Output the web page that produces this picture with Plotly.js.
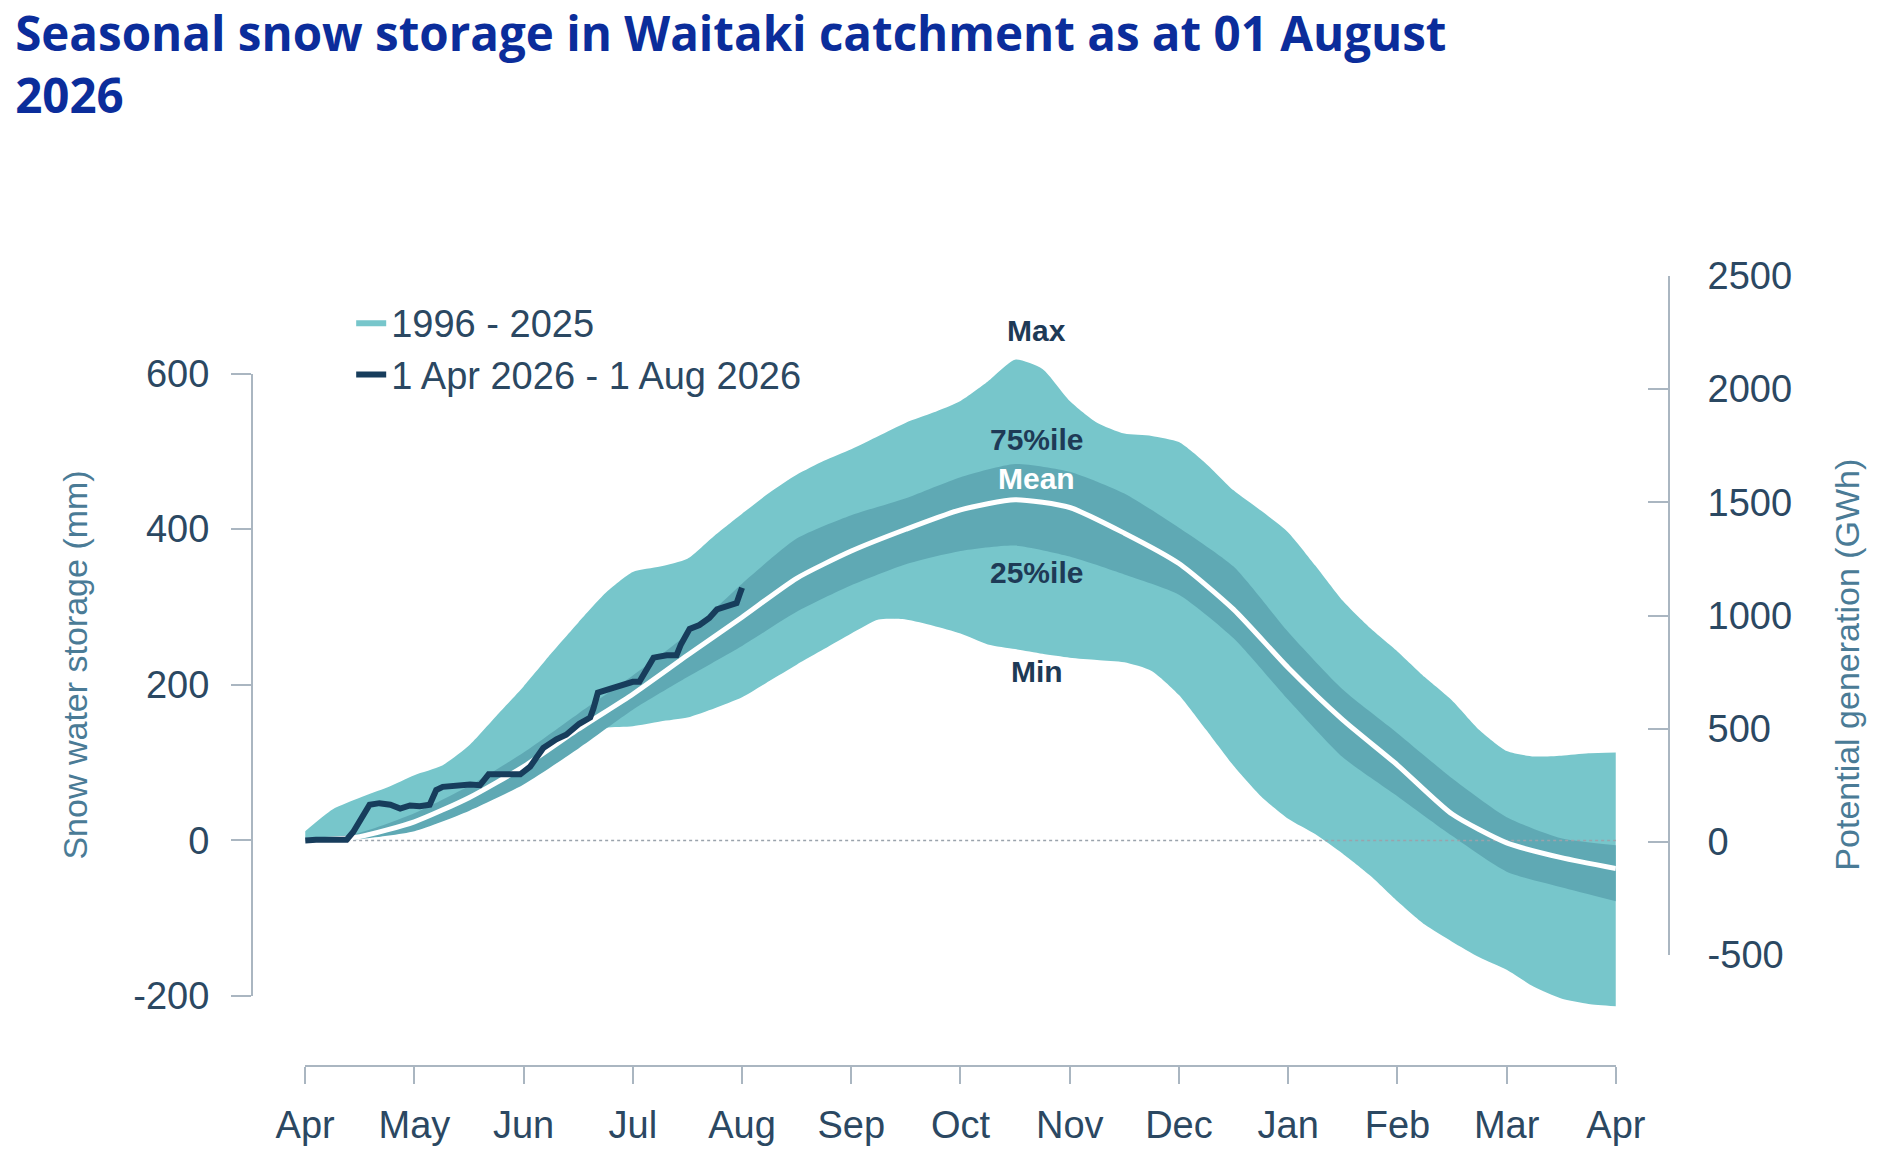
<!DOCTYPE html>
<html>
<head>
<meta charset="utf-8">
<script src="https://cdn.plot.ly/plotly-3.0.1.min.js"></script>
<style>
  html, body { margin: 0; padding: 0; background: #fff; }
  #chart { width: 1892px; height: 1170px; }
</style>
</head>
<body>
<div id="chart"></div>
<script>
// month ticks, x is months since 1 April
var months = ['Apr', 'May', 'Jun', 'Jul', 'Aug', 'Sep', 'Oct', 'Nov', 'Dec', 'Jan', 'Feb', 'Mar', 'Apr'];
var monthPos = [0, 1, 2, 3, 4, 5, 6, 7, 8, 9, 10, 11, 12];

// 1996 - 2025 envelope (mm), quarter-month steps
var xQuarter = [0, 0.25, 0.5, 0.75, 1, 1.25, 1.5, 1.75, 2, 2.25, 2.5, 2.75, 3, 3.25, 3.5, 3.75,
  4, 4.25, 4.5, 4.75, 5, 5.25, 5.5, 5.75, 6, 6.25, 6.5, 6.75, 7, 7.25, 7.5, 7.75,
  8, 8.25, 8.5, 8.75, 9, 9.25, 9.5, 9.75, 10, 10.25, 10.5, 10.75, 11, 11.25, 11.5, 11.75, 12];
var maxMm = [12, 40, 55, 68, 84, 96, 122, 160, 198, 240, 280, 318, 345, 352, 362, 392,
  420, 447, 470, 488, 503, 520, 537, 550, 565, 590, 618, 606, 565, 537, 523, 520,
  512, 484, 450, 424, 396, 353, 308, 273, 243, 210, 180, 142, 115, 108, 109, 112, 113];
var minMm = [0, 0, 2, 8, 17, 28, 50, 68, 90, 112, 135, 145, 147, 153, 158, 170,
  184, 205, 226, 246, 266, 284, 284, 276, 266, 252, 246, 240, 235, 232, 229, 218,
  187, 142, 96, 57, 28, 8, -17, -45, -78, -108, -130, -150, -166, -188, -203, -210, -213];

// quartiles and mean (mm), half-month steps
var xHalf = [0, 0.5, 1, 1.5, 2, 2.5, 3, 3.5, 4, 4.5, 5, 5.5, 6, 6.5, 7, 7.5, 8, 8.5, 9, 9.5, 10, 10.5, 11, 11.5, 12];
var p75Mm = [0, 10, 35, 70, 113, 163, 212, 265, 330, 388, 418, 440, 467, 484, 474, 446, 402, 352, 268, 194, 138, 80, 30, 3, -6];
var meanMm = [0, 5, 24, 55, 95, 143, 188, 238, 287, 337, 372, 400, 425, 438, 428, 395, 356, 297, 222, 155, 97, 34, -3, -22, -36];
var p25Mm = [0, 2, 12, 38, 72, 118, 168, 210, 250, 294, 328, 355, 372, 379, 365, 342, 316, 260, 181, 107, 57, 6, -40, -60, -78];

// 1 Apr 2026 - 1 Aug 2026 (mm)
var seasonX = [0, 0.10, 0.38, 0.44, 0.59, 0.68, 0.78, 0.87, 0.96, 1.05, 1.14, 1.20, 1.26, 1.39, 1.51, 1.60,
  1.68, 1.78, 1.90, 1.97, 2.06, 2.18, 2.30, 2.39, 2.51, 2.61, 2.64, 2.68, 2.79, 2.91, 3.00, 3.06,
  3.13, 3.19, 3.31, 3.40, 3.44, 3.52, 3.61, 3.70, 3.77, 3.89, 3.95, 3.98, 4.0];
var seasonMm = [0, 1, 1, 11, 46, 48, 46, 41, 45, 44, 46, 65, 69, 71, 72, 71,
  85, 85, 84, 85, 95, 119, 130, 136, 150, 158, 170, 190, 195, 201, 204, 204,
  221, 235, 238, 238, 252, 272, 277, 286, 297, 303, 305, 317, 325];

var zeroX = [0, 12];
var zeroMm = [0, 0];

var mmTicks = [-200, 0, 200, 400, 600];
var mmLabels = ['-200', '0', '200', '400', '600'];
var gwhTicks = [-500, 0, 500, 1000, 1500, 2000, 2500];
var gwhLabels = ['-500', '0', '500', '1000', '1500', '2000', '2500'];

var lightTeal = '#77c6cb';
var darkTeal = '#5fa9b4';
var navy = '#173d5c';
var inkColor = '#2b4862';
var axisColor = '#aab6c1';

var data = [
  {x: xQuarter, y: minMm, mode: 'lines', line: {width: 0, shape: 'spline', smoothing: 0.6},
   showlegend: false, hoverinfo: 'skip'},
  {x: xQuarter, y: maxMm, mode: 'lines', line: {width: 0, shape: 'spline', smoothing: 0.6},
   fill: 'tonexty', fillcolor: lightTeal, name: '1996 - 2025', hoverinfo: 'skip'},
  {x: xHalf, y: p25Mm, mode: 'lines', line: {width: 0, shape: 'spline', smoothing: 0.6},
   showlegend: false, hoverinfo: 'skip'},
  {x: xHalf, y: p75Mm, mode: 'lines', line: {width: 0, shape: 'spline', smoothing: 0.6},
   fill: 'tonexty', fillcolor: darkTeal, showlegend: false, hoverinfo: 'skip'},
  {x: zeroX, y: zeroMm, mode: 'lines', line: {width: 1.5, color: '#9aa3ac', dash: 'dot'},
   showlegend: false, hoverinfo: 'skip'},
  {x: xHalf, y: meanMm, mode: 'lines', line: {width: 5, color: '#ffffff', shape: 'spline', smoothing: 0.6},
   showlegend: false, hoverinfo: 'skip'},
  {x: seasonX, y: seasonMm, mode: 'lines', line: {width: 6, color: navy},
   name: '1 Apr 2026 - 1 Aug 2026'},
  // empty traces so the two scale axes get drawn
  {x: [], y: [], yaxis: 'y3', showlegend: false, hoverinfo: 'skip'},
  {x: [], y: [], yaxis: 'y2', showlegend: false, hoverinfo: 'skip'}
];

var tickFont = {family: 'Liberation Sans, Arial, sans-serif', size: 38, color: inkColor};
var labelFont = {family: 'Liberation Sans, Arial, sans-serif', size: 30, color: '#1e3a56'};

var layout = {
  width: 1892,
  height: 1170,
  margin: {l: 252, r: 223, t: 276, b: 104, pad: 0},
  paper_bgcolor: '#ffffff',
  plot_bgcolor: 'rgba(0,0,0,0)',
  title: {
    text: 'Seasonal snow storage in Waitaki catchment as at 01 August<br>2026',
    x: 0.008, xanchor: 'left', y: 0.956, yanchor: 'top',
    font: {family: 'Open Sans, sans-serif', size: 47.5, color: '#0b2d9b', weight: 700}
  },
  showlegend: true,
  legend: {
    x: 0.07, y: 0.981, xanchor: 'left', yanchor: 'top', traceorder: 'normal',
    font: {family: 'Liberation Sans, Arial, sans-serif', size: 38, color: inkColor},
    bgcolor: 'rgba(0,0,0,0)', itemwidth: 30, tracegroupgap: 0
  },
  xaxis: {
    domain: [0.0375, 0.9625], range: [0, 12], anchor: 'free', position: 0,
    tickvals: monthPos, ticktext: months, tickfont: tickFont,
    showline: true, linecolor: axisColor, linewidth: 2,
    ticks: 'outside', ticklen: 17, tickwidth: 2, tickcolor: axisColor, ticklabelstandoff: 8,
    showgrid: false, zeroline: false, fixedrange: true
  },
  yaxis: {
    domain: [0.0392, 1], range: [-250, 725.5], visible: false, fixedrange: true
  },
  yaxis3: {
    domain: [0.0886, 0.8765], range: [-200, 600], anchor: 'free', position: 0, side: 'left',
    tickvals: mmTicks, ticktext: mmLabels, tickfont: tickFont,
    showline: true, linecolor: axisColor, linewidth: 2,
    ticks: 'outside', ticklen: 20, tickwidth: 2, tickcolor: axisColor, ticklabelstandoff: 14,
    showgrid: false, zeroline: false, fixedrange: true
  },
  yaxis2: {
    domain: [0.1405, 1], range: [-500, 2500], anchor: 'free', position: 1, side: 'right',
    tickvals: gwhTicks, ticktext: gwhLabels, tickfont: tickFont,
    showline: true, linecolor: axisColor, linewidth: 2,
    ticks: 'inside', ticklen: 20, tickwidth: 2, tickcolor: axisColor, ticklabelstandoff: 30,
    showgrid: false, zeroline: false, fixedrange: true
  },
  annotations: [
    {text: 'Snow water storage (mm)', xref: 'paper', yref: 'paper', x: -0.125, y: 0.508,
     textangle: -90, showarrow: false, xanchor: 'center', yanchor: 'middle',
     font: {family: 'Liberation Sans, Arial, sans-serif', size: 34, color: '#4a7b96'}},
    {text: 'Potential generation (GWh)', xref: 'paper', yref: 'paper', x: 1.1256, y: 0.508,
     textangle: -90, showarrow: false, xanchor: 'center', yanchor: 'middle',
     font: {family: 'Liberation Sans, Arial, sans-serif', size: 34, color: '#4a7b96'}},
    {text: '<b>Max</b>', x: 6.7, y: 655, xref: 'x', yref: 'y', showarrow: false, font: labelFont},
    {text: '<b>75%ile</b>', x: 6.7, y: 516, xref: 'x', yref: 'y', showarrow: false, font: labelFont},
    {text: '<b>Mean</b>', x: 6.7, y: 465, xref: 'x', yref: 'y', showarrow: false,
     font: {family: labelFont.family, size: 30, color: '#ffffff'}},
    {text: '<b>25%ile</b>', x: 6.7, y: 345, xref: 'x', yref: 'y', showarrow: false, font: labelFont},
    {text: '<b>Min</b>', x: 6.7, y: 217, xref: 'x', yref: 'y', showarrow: false, font: labelFont}
  ]
};

Plotly.newPlot('chart', data, layout, {displayModeBar: false, staticPlot: true});
</script>
</body>
</html>
